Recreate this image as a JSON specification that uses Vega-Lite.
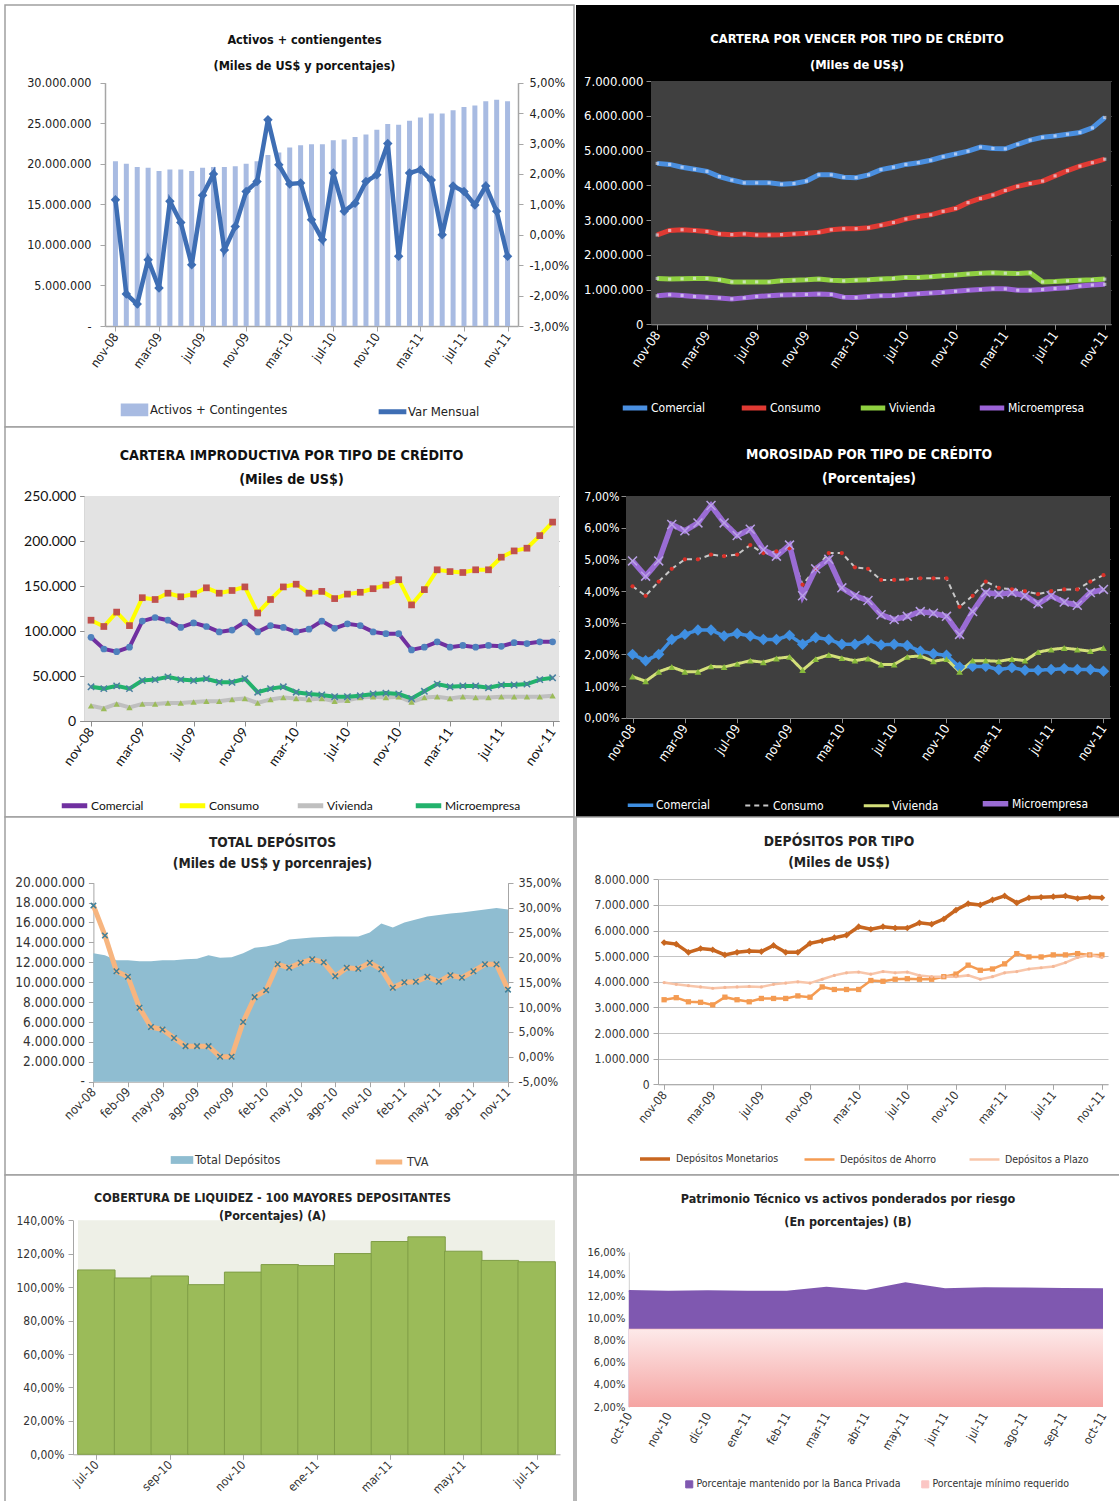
{
"$schema": "https://vega.github.io/schema/vega-lite/v6.json",
"padding": {"left": 4, "top": 4, "right": 0, "bottom": 0},
"background": "white",
"columns": 2,
"spacing": {"row": 0, "column": 2},
"bounds": "flush",
"resolve": {"scale": {"color": "independent", "fill": "independent", "stroke": "independent", "shape": "independent", "size": "independent", "strokeWidth": "independent", "strokeDash": "independent"}},
"config": {
  "locale": {"number": {"decimal": ",", "thousands": ".", "grouping": [3], "currency": ["$", ""], "minus": "-"}},
  "view": {"stroke": null},
  "axis": {"labelFont": "DejaVu Sans Condensed", "grid": false, "labelOverlap": false},
  "legend": {"labelFont": "DejaVu Sans Condensed", "labelLimit": 400},
  "title": {"font": "DejaVu Sans Condensed", "fontWeight": "bold", "anchor": "middle", "frame": "group"}
},
"datasets": {
  "one": [{}],
  "p1": [
    {"i":0,"act":20.3e6,"varm":0.0115},{"i":1,"act":20.0e6,"varm":-0.0195},{"i":2,"act":19.6e6,"varm":-0.0228},{"i":3,"act":19.5e6,"varm":-0.0082},
    {"i":4,"act":19.1e6,"varm":-0.0175},{"i":5,"act":19.3e6,"varm":0.011},{"i":6,"act":19.3e6,"varm":0.004},{"i":7,"act":19.1e6,"varm":-0.0099},
    {"i":8,"act":19.5e6,"varm":0.013},{"i":9,"act":19.6e6,"varm":0.02},{"i":10,"act":19.6e6,"varm":-0.005},{"i":11,"act":19.7e6,"varm":0.0027},
    {"i":12,"act":20.0e6,"varm":0.0142},{"i":13,"act":20.3e6,"varm":0.0175},{"i":14,"act":21.1e6,"varm":0.0378},{"i":15,"act":21.4e6,"varm":0.023},
    {"i":16,"act":22.0e6,"varm":0.0167},{"i":17,"act":22.3e6,"varm":0.017},{"i":18,"act":22.4e6,"varm":0.0049},{"i":19,"act":22.4e6,"varm":-0.0016},
    {"i":20,"act":22.9e6,"varm":0.0203},{"i":21,"act":23.0e6,"varm":0.0077},{"i":22,"act":23.3e6,"varm":0.0104},{"i":23,"act":23.6e6,"varm":0.0175},
    {"i":24,"act":24.2e6,"varm":0.0197},{"i":25,"act":24.9e6,"varm":0.03},{"i":26,"act":24.8e6,"varm":-0.0071},{"i":27,"act":25.3e6,"varm":0.0203},
    {"i":28,"act":25.7e6,"varm":0.0214},{"i":29,"act":26.2e6,"varm":0.018},{"i":30,"act":26.2e6,"varm":0.0},{"i":31,"act":26.6e6,"varm":0.016},
    {"i":32,"act":27.0e6,"varm":0.0142},{"i":33,"act":27.2e6,"varm":0.0098},{"i":34,"act":27.7e6,"varm":0.016},{"i":35,"act":27.9e6,"varm":0.0077},
    {"i":36,"act":27.7e6,"varm":-0.0071}
  ],
  "p2": [
    {"i":0,"s":"Comercial","v":4.63e6},{"i":1,"s":"Comercial","v":4.60e6},{"i":2,"s":"Comercial","v":4.52e6},{"i":3,"s":"Comercial","v":4.46e6},{"i":4,"s":"Comercial","v":4.40e6},{"i":5,"s":"Comercial","v":4.25e6},{"i":6,"s":"Comercial","v":4.15e6},{"i":7,"s":"Comercial","v":4.07e6},{"i":8,"s":"Comercial","v":4.07e6},{"i":9,"s":"Comercial","v":4.07e6},{"i":10,"s":"Comercial","v":4.03e6},{"i":11,"s":"Comercial","v":4.05e6},{"i":12,"s":"Comercial","v":4.12e6},{"i":13,"s":"Comercial","v":4.30e6},{"i":14,"s":"Comercial","v":4.30e6},{"i":15,"s":"Comercial","v":4.23e6},{"i":16,"s":"Comercial","v":4.22e6},{"i":17,"s":"Comercial","v":4.30e6},{"i":18,"s":"Comercial","v":4.45e6},{"i":19,"s":"Comercial","v":4.52e6},{"i":20,"s":"Comercial","v":4.60e6},{"i":21,"s":"Comercial","v":4.65e6},{"i":22,"s":"Comercial","v":4.72e6},{"i":23,"s":"Comercial","v":4.82e6},{"i":24,"s":"Comercial","v":4.90e6},{"i":25,"s":"Comercial","v":4.98e6},{"i":26,"s":"Comercial","v":5.10e6},{"i":27,"s":"Comercial","v":5.06e6},{"i":28,"s":"Comercial","v":5.05e6},{"i":29,"s":"Comercial","v":5.18e6},{"i":30,"s":"Comercial","v":5.30e6},{"i":31,"s":"Comercial","v":5.38e6},{"i":32,"s":"Comercial","v":5.42e6},{"i":33,"s":"Comercial","v":5.47e6},{"i":34,"s":"Comercial","v":5.52e6},{"i":35,"s":"Comercial","v":5.65e6},{"i":36,"s":"Comercial","v":5.95e6},
    {"i":0,"s":"Consumo","v":2.57e6},{"i":1,"s":"Consumo","v":2.70e6},{"i":2,"s":"Consumo","v":2.72e6},{"i":3,"s":"Consumo","v":2.70e6},{"i":4,"s":"Consumo","v":2.67e6},{"i":5,"s":"Consumo","v":2.60e6},{"i":6,"s":"Consumo","v":2.58e6},{"i":7,"s":"Consumo","v":2.60e6},{"i":8,"s":"Consumo","v":2.57e6},{"i":9,"s":"Consumo","v":2.57e6},{"i":10,"s":"Consumo","v":2.58e6},{"i":11,"s":"Consumo","v":2.60e6},{"i":12,"s":"Consumo","v":2.62e6},{"i":13,"s":"Consumo","v":2.65e6},{"i":14,"s":"Consumo","v":2.72e6},{"i":15,"s":"Consumo","v":2.75e6},{"i":16,"s":"Consumo","v":2.75e6},{"i":17,"s":"Consumo","v":2.78e6},{"i":18,"s":"Consumo","v":2.85e6},{"i":19,"s":"Consumo","v":2.93e6},{"i":20,"s":"Consumo","v":3.03e6},{"i":21,"s":"Consumo","v":3.10e6},{"i":22,"s":"Consumo","v":3.15e6},{"i":23,"s":"Consumo","v":3.25e6},{"i":24,"s":"Consumo","v":3.33e6},{"i":25,"s":"Consumo","v":3.50e6},{"i":26,"s":"Consumo","v":3.62e6},{"i":27,"s":"Consumo","v":3.72e6},{"i":28,"s":"Consumo","v":3.85e6},{"i":29,"s":"Consumo","v":3.97e6},{"i":30,"s":"Consumo","v":4.05e6},{"i":31,"s":"Consumo","v":4.12e6},{"i":32,"s":"Consumo","v":4.27e6},{"i":33,"s":"Consumo","v":4.42e6},{"i":34,"s":"Consumo","v":4.55e6},{"i":35,"s":"Consumo","v":4.65e6},{"i":36,"s":"Consumo","v":4.75e6},
    {"i":0,"s":"Vivienda","v":1.32e6},{"i":1,"s":"Vivienda","v":1.30e6},{"i":2,"s":"Vivienda","v":1.31e6},{"i":3,"s":"Vivienda","v":1.32e6},{"i":4,"s":"Vivienda","v":1.32e6},{"i":5,"s":"Vivienda","v":1.28e6},{"i":6,"s":"Vivienda","v":1.22e6},{"i":7,"s":"Vivienda","v":1.22e6},{"i":8,"s":"Vivienda","v":1.22e6},{"i":9,"s":"Vivienda","v":1.22e6},{"i":10,"s":"Vivienda","v":1.25e6},{"i":11,"s":"Vivienda","v":1.27e6},{"i":12,"s":"Vivienda","v":1.28e6},{"i":13,"s":"Vivienda","v":1.30e6},{"i":14,"s":"Vivienda","v":1.27e6},{"i":15,"s":"Vivienda","v":1.25e6},{"i":16,"s":"Vivienda","v":1.27e6},{"i":17,"s":"Vivienda","v":1.28e6},{"i":18,"s":"Vivienda","v":1.30e6},{"i":19,"s":"Vivienda","v":1.32e6},{"i":20,"s":"Vivienda","v":1.35e6},{"i":21,"s":"Vivienda","v":1.35e6},{"i":22,"s":"Vivienda","v":1.37e6},{"i":23,"s":"Vivienda","v":1.40e6},{"i":24,"s":"Vivienda","v":1.42e6},{"i":25,"s":"Vivienda","v":1.45e6},{"i":26,"s":"Vivienda","v":1.47e6},{"i":27,"s":"Vivienda","v":1.48e6},{"i":28,"s":"Vivienda","v":1.47e6},{"i":29,"s":"Vivienda","v":1.46e6},{"i":30,"s":"Vivienda","v":1.48e6},{"i":31,"s":"Vivienda","v":1.22e6},{"i":32,"s":"Vivienda","v":1.23e6},{"i":33,"s":"Vivienda","v":1.25e6},{"i":34,"s":"Vivienda","v":1.27e6},{"i":35,"s":"Vivienda","v":1.28e6},{"i":36,"s":"Vivienda","v":1.30e6},
    {"i":0,"s":"Microempresa","v":0.82e6},{"i":1,"s":"Microempresa","v":0.85e6},{"i":2,"s":"Microempresa","v":0.83e6},{"i":3,"s":"Microempresa","v":0.80e6},{"i":4,"s":"Microempresa","v":0.78e6},{"i":5,"s":"Microempresa","v":0.76e6},{"i":6,"s":"Microempresa","v":0.73e6},{"i":7,"s":"Microempresa","v":0.76e6},{"i":8,"s":"Microempresa","v":0.80e6},{"i":9,"s":"Microempresa","v":0.82e6},{"i":10,"s":"Microempresa","v":0.84e6},{"i":11,"s":"Microempresa","v":0.85e6},{"i":12,"s":"Microempresa","v":0.86e6},{"i":13,"s":"Microempresa","v":0.87e6},{"i":14,"s":"Microempresa","v":0.86e6},{"i":15,"s":"Microempresa","v":0.78e6},{"i":16,"s":"Microempresa","v":0.77e6},{"i":17,"s":"Microempresa","v":0.80e6},{"i":18,"s":"Microempresa","v":0.82e6},{"i":19,"s":"Microempresa","v":0.83e6},{"i":20,"s":"Microempresa","v":0.86e6},{"i":21,"s":"Microempresa","v":0.88e6},{"i":22,"s":"Microempresa","v":0.90e6},{"i":23,"s":"Microempresa","v":0.92e6},{"i":24,"s":"Microempresa","v":0.95e6},{"i":25,"s":"Microempresa","v":0.98e6},{"i":26,"s":"Microempresa","v":1.00e6},{"i":27,"s":"Microempresa","v":1.02e6},{"i":28,"s":"Microempresa","v":1.02e6},{"i":29,"s":"Microempresa","v":0.98e6},{"i":30,"s":"Microempresa","v":0.98e6},{"i":31,"s":"Microempresa","v":1.00e6},{"i":32,"s":"Microempresa","v":1.03e6},{"i":33,"s":"Microempresa","v":1.05e6},{"i":34,"s":"Microempresa","v":1.10e6},{"i":35,"s":"Microempresa","v":1.13e6},{"i":36,"s":"Microempresa","v":1.15e6}
  ],
  "p3": [
    {"i":0,"s":"Comercial","v":93e3},{"i":1,"s":"Comercial","v":80e3},{"i":2,"s":"Comercial","v":77e3},{"i":3,"s":"Comercial","v":82e3},{"i":4,"s":"Comercial","v":111e3},{"i":5,"s":"Comercial","v":115e3},{"i":6,"s":"Comercial","v":112e3},{"i":7,"s":"Comercial","v":104e3},{"i":8,"s":"Comercial","v":109e3},{"i":9,"s":"Comercial","v":105e3},{"i":10,"s":"Comercial","v":99e3},{"i":11,"s":"Comercial","v":101e3},{"i":12,"s":"Comercial","v":110e3},{"i":13,"s":"Comercial","v":99e3},{"i":14,"s":"Comercial","v":106e3},{"i":15,"s":"Comercial","v":104e3},{"i":16,"s":"Comercial","v":99e3},{"i":17,"s":"Comercial","v":102e3},{"i":18,"s":"Comercial","v":111e3},{"i":19,"s":"Comercial","v":103e3},{"i":20,"s":"Comercial","v":108e3},{"i":21,"s":"Comercial","v":106e3},{"i":22,"s":"Comercial","v":99e3},{"i":23,"s":"Comercial","v":97e3},{"i":24,"s":"Comercial","v":97e3},{"i":25,"s":"Comercial","v":79e3},{"i":26,"s":"Comercial","v":82e3},{"i":27,"s":"Comercial","v":88e3},{"i":28,"s":"Comercial","v":82e3},{"i":29,"s":"Comercial","v":84e3},{"i":30,"s":"Comercial","v":82e3},{"i":31,"s":"Comercial","v":84e3},{"i":32,"s":"Comercial","v":83e3},{"i":33,"s":"Comercial","v":87e3},{"i":34,"s":"Comercial","v":86e3},{"i":35,"s":"Comercial","v":88e3},{"i":36,"s":"Comercial","v":88e3},
    {"i":0,"s":"Consumo","v":112e3},{"i":1,"s":"Consumo","v":105e3},{"i":2,"s":"Consumo","v":121e3},{"i":3,"s":"Consumo","v":106e3},{"i":4,"s":"Consumo","v":137e3},{"i":5,"s":"Consumo","v":135e3},{"i":6,"s":"Consumo","v":142e3},{"i":7,"s":"Consumo","v":138e3},{"i":8,"s":"Consumo","v":141e3},{"i":9,"s":"Consumo","v":148e3},{"i":10,"s":"Consumo","v":142e3},{"i":11,"s":"Consumo","v":145e3},{"i":12,"s":"Consumo","v":149e3},{"i":13,"s":"Consumo","v":120e3},{"i":14,"s":"Consumo","v":135e3},{"i":15,"s":"Consumo","v":149e3},{"i":16,"s":"Consumo","v":152e3},{"i":17,"s":"Consumo","v":142e3},{"i":18,"s":"Consumo","v":144e3},{"i":19,"s":"Consumo","v":136e3},{"i":20,"s":"Consumo","v":141e3},{"i":21,"s":"Consumo","v":143e3},{"i":22,"s":"Consumo","v":147e3},{"i":23,"s":"Consumo","v":151e3},{"i":24,"s":"Consumo","v":157e3},{"i":25,"s":"Consumo","v":129e3},{"i":26,"s":"Consumo","v":146e3},{"i":27,"s":"Consumo","v":168e3},{"i":28,"s":"Consumo","v":166e3},{"i":29,"s":"Consumo","v":165e3},{"i":30,"s":"Consumo","v":168e3},{"i":31,"s":"Consumo","v":168e3},{"i":32,"s":"Consumo","v":182e3},{"i":33,"s":"Consumo","v":189e3},{"i":34,"s":"Consumo","v":192e3},{"i":35,"s":"Consumo","v":206e3},{"i":36,"s":"Consumo","v":221e3},
    {"i":0,"s":"Vivienda","v":17e3},{"i":1,"s":"Vivienda","v":14e3},{"i":2,"s":"Vivienda","v":19e3},{"i":3,"s":"Vivienda","v":15e3},{"i":4,"s":"Vivienda","v":19e3},{"i":5,"s":"Vivienda","v":19e3},{"i":6,"s":"Vivienda","v":20e3},{"i":7,"s":"Vivienda","v":20e3},{"i":8,"s":"Vivienda","v":21e3},{"i":9,"s":"Vivienda","v":22e3},{"i":10,"s":"Vivienda","v":22e3},{"i":11,"s":"Vivienda","v":24e3},{"i":12,"s":"Vivienda","v":25e3},{"i":13,"s":"Vivienda","v":20e3},{"i":14,"s":"Vivienda","v":24e3},{"i":15,"s":"Vivienda","v":26e3},{"i":16,"s":"Vivienda","v":25e3},{"i":17,"s":"Vivienda","v":24e3},{"i":18,"s":"Vivienda","v":25e3},{"i":19,"s":"Vivienda","v":22e3},{"i":20,"s":"Vivienda","v":23e3},{"i":21,"s":"Vivienda","v":26e3},{"i":22,"s":"Vivienda","v":27e3},{"i":23,"s":"Vivienda","v":26e3},{"i":24,"s":"Vivienda","v":27e3},{"i":25,"s":"Vivienda","v":21e3},{"i":26,"s":"Vivienda","v":26e3},{"i":27,"s":"Vivienda","v":27e3},{"i":28,"s":"Vivienda","v":25e3},{"i":29,"s":"Vivienda","v":27e3},{"i":30,"s":"Vivienda","v":26e3},{"i":31,"s":"Vivienda","v":26e3},{"i":32,"s":"Vivienda","v":27e3},{"i":33,"s":"Vivienda","v":27e3},{"i":34,"s":"Vivienda","v":27e3},{"i":35,"s":"Vivienda","v":27e3},{"i":36,"s":"Vivienda","v":28e3},
    {"i":0,"s":"Microempresa","v":38e3},{"i":1,"s":"Microempresa","v":36e3},{"i":2,"s":"Microempresa","v":39e3},{"i":3,"s":"Microempresa","v":36e3},{"i":4,"s":"Microempresa","v":45e3},{"i":5,"s":"Microempresa","v":46e3},{"i":6,"s":"Microempresa","v":49e3},{"i":7,"s":"Microempresa","v":46e3},{"i":8,"s":"Microempresa","v":45e3},{"i":9,"s":"Microempresa","v":47e3},{"i":10,"s":"Microempresa","v":43e3},{"i":11,"s":"Microempresa","v":43e3},{"i":12,"s":"Microempresa","v":47e3},{"i":13,"s":"Microempresa","v":32e3},{"i":14,"s":"Microempresa","v":36e3},{"i":15,"s":"Microempresa","v":38e3},{"i":16,"s":"Microempresa","v":32e3},{"i":17,"s":"Microempresa","v":30e3},{"i":18,"s":"Microempresa","v":29e3},{"i":19,"s":"Microempresa","v":27e3},{"i":20,"s":"Microempresa","v":27e3},{"i":21,"s":"Microempresa","v":28e3},{"i":22,"s":"Microempresa","v":30e3},{"i":23,"s":"Microempresa","v":31e3},{"i":24,"s":"Microempresa","v":30e3},{"i":25,"s":"Microempresa","v":25e3},{"i":26,"s":"Microempresa","v":33e3},{"i":27,"s":"Microempresa","v":41e3},{"i":28,"s":"Microempresa","v":38e3},{"i":29,"s":"Microempresa","v":39e3},{"i":30,"s":"Microempresa","v":39e3},{"i":31,"s":"Microempresa","v":37e3},{"i":32,"s":"Microempresa","v":40e3},{"i":33,"s":"Microempresa","v":40e3},{"i":34,"s":"Microempresa","v":41e3},{"i":35,"s":"Microempresa","v":46e3},{"i":36,"s":"Microempresa","v":48e3}
  ],
  "p4": [
    {"i":0,"s":"Comercial","v":0.02},{"i":1,"s":"Comercial","v":0.018},{"i":2,"s":"Comercial","v":0.02},{"i":3,"s":"Comercial","v":0.0247},{"i":4,"s":"Comercial","v":0.0263},{"i":5,"s":"Comercial","v":0.0277},{"i":6,"s":"Comercial","v":0.0277},{"i":7,"s":"Comercial","v":0.0258},{"i":8,"s":"Comercial","v":0.0266},{"i":9,"s":"Comercial","v":0.0258},{"i":10,"s":"Comercial","v":0.0247},{"i":11,"s":"Comercial","v":0.0247},{"i":12,"s":"Comercial","v":0.026},{"i":13,"s":"Comercial","v":0.0232},{"i":14,"s":"Comercial","v":0.0253},{"i":15,"s":"Comercial","v":0.0247},{"i":16,"s":"Comercial","v":0.0232},{"i":17,"s":"Comercial","v":0.0232},{"i":18,"s":"Comercial","v":0.0245},{"i":19,"s":"Comercial","v":0.023},{"i":20,"s":"Comercial","v":0.0232},{"i":21,"s":"Comercial","v":0.0228},{"i":22,"s":"Comercial","v":0.021},{"i":23,"s":"Comercial","v":0.0202},{"i":24,"s":"Comercial","v":0.0197},{"i":25,"s":"Comercial","v":0.016},{"i":26,"s":"Comercial","v":0.0162},{"i":27,"s":"Comercial","v":0.0162},{"i":28,"s":"Comercial","v":0.0152},{"i":29,"s":"Comercial","v":0.0158},{"i":30,"s":"Comercial","v":0.015},{"i":31,"s":"Comercial","v":0.015},{"i":32,"s":"Comercial","v":0.0152},{"i":33,"s":"Comercial","v":0.0155},{"i":34,"s":"Comercial","v":0.0152},{"i":35,"s":"Comercial","v":0.0152},{"i":36,"s":"Comercial","v":0.0147},
    {"i":0,"s":"Consumo","v":0.0415},{"i":1,"s":"Consumo","v":0.0385},{"i":2,"s":"Consumo","v":0.043},{"i":3,"s":"Consumo","v":0.047},{"i":4,"s":"Consumo","v":0.05},{"i":5,"s":"Consumo","v":0.05},{"i":6,"s":"Consumo","v":0.0515},{"i":7,"s":"Consumo","v":0.051},{"i":8,"s":"Consumo","v":0.0515},{"i":9,"s":"Consumo","v":0.0545},{"i":10,"s":"Consumo","v":0.052},{"i":11,"s":"Consumo","v":0.0525},{"i":12,"s":"Consumo","v":0.0535},{"i":13,"s":"Consumo","v":0.042},{"i":14,"s":"Consumo","v":0.047},{"i":15,"s":"Consumo","v":0.052},{"i":16,"s":"Consumo","v":0.052},{"i":17,"s":"Consumo","v":0.0475},{"i":18,"s":"Consumo","v":0.047},{"i":19,"s":"Consumo","v":0.0435},{"i":20,"s":"Consumo","v":0.0435},{"i":21,"s":"Consumo","v":0.0437},{"i":22,"s":"Consumo","v":0.044},{"i":23,"s":"Consumo","v":0.044},{"i":24,"s":"Consumo","v":0.044},{"i":25,"s":"Consumo","v":0.035},{"i":26,"s":"Consumo","v":0.0385},{"i":27,"s":"Consumo","v":0.043},{"i":28,"s":"Consumo","v":0.041},{"i":29,"s":"Consumo","v":0.0405},{"i":30,"s":"Consumo","v":0.04},{"i":31,"s":"Consumo","v":0.039},{"i":32,"s":"Consumo","v":0.04},{"i":33,"s":"Consumo","v":0.0405},{"i":34,"s":"Consumo","v":0.0405},{"i":35,"s":"Consumo","v":0.043},{"i":36,"s":"Consumo","v":0.045},
    {"i":0,"s":"Vivienda","v":0.013},{"i":1,"s":"Vivienda","v":0.0115},{"i":2,"s":"Vivienda","v":0.0145},{"i":3,"s":"Vivienda","v":0.016},{"i":4,"s":"Vivienda","v":0.0145},{"i":5,"s":"Vivienda","v":0.0145},{"i":6,"s":"Vivienda","v":0.0162},{"i":7,"s":"Vivienda","v":0.016},{"i":8,"s":"Vivienda","v":0.017},{"i":9,"s":"Vivienda","v":0.018},{"i":10,"s":"Vivienda","v":0.0175},{"i":11,"s":"Vivienda","v":0.0187},{"i":12,"s":"Vivienda","v":0.0192},{"i":13,"s":"Vivienda","v":0.015},{"i":14,"s":"Vivienda","v":0.0185},{"i":15,"s":"Vivienda","v":0.0198},{"i":16,"s":"Vivienda","v":0.0188},{"i":17,"s":"Vivienda","v":0.018},{"i":18,"s":"Vivienda","v":0.0187},{"i":19,"s":"Vivienda","v":0.0168},{"i":20,"s":"Vivienda","v":0.0168},{"i":21,"s":"Vivienda","v":0.0192},{"i":22,"s":"Vivienda","v":0.0195},{"i":23,"s":"Vivienda","v":0.0178},{"i":24,"s":"Vivienda","v":0.0185},{"i":25,"s":"Vivienda","v":0.0145},{"i":26,"s":"Vivienda","v":0.018},{"i":27,"s":"Vivienda","v":0.018},{"i":28,"s":"Vivienda","v":0.0178},{"i":29,"s":"Vivienda","v":0.0185},{"i":30,"s":"Vivienda","v":0.018},{"i":31,"s":"Vivienda","v":0.0207},{"i":32,"s":"Vivienda","v":0.0215},{"i":33,"s":"Vivienda","v":0.022},{"i":34,"s":"Vivienda","v":0.0215},{"i":35,"s":"Vivienda","v":0.021},{"i":36,"s":"Vivienda","v":0.022},
    {"i":0,"s":"Microempresa","v":0.0495},{"i":1,"s":"Microempresa","v":0.0447},{"i":2,"s":"Microempresa","v":0.0495},{"i":3,"s":"Microempresa","v":0.061},{"i":4,"s":"Microempresa","v":0.059},{"i":5,"s":"Microempresa","v":0.0615},{"i":6,"s":"Microempresa","v":0.067},{"i":7,"s":"Microempresa","v":0.0615},{"i":8,"s":"Microempresa","v":0.0575},{"i":9,"s":"Microempresa","v":0.0595},{"i":10,"s":"Microempresa","v":0.053},{"i":11,"s":"Microempresa","v":0.051},{"i":12,"s":"Microempresa","v":0.0545},{"i":13,"s":"Microempresa","v":0.0385},{"i":14,"s":"Microempresa","v":0.047},{"i":15,"s":"Microempresa","v":0.05},{"i":16,"s":"Microempresa","v":0.041},{"i":17,"s":"Microempresa","v":0.0385},{"i":18,"s":"Microempresa","v":0.037},{"i":19,"s":"Microempresa","v":0.0325},{"i":20,"s":"Microempresa","v":0.031},{"i":21,"s":"Microempresa","v":0.032},{"i":22,"s":"Microempresa","v":0.0335},{"i":23,"s":"Microempresa","v":0.033},{"i":24,"s":"Microempresa","v":0.032},{"i":25,"s":"Microempresa","v":0.0263},{"i":26,"s":"Microempresa","v":0.0335},{"i":27,"s":"Microempresa","v":0.0395},{"i":28,"s":"Microempresa","v":0.039},{"i":29,"s":"Microempresa","v":0.0395},{"i":30,"s":"Microempresa","v":0.0385},{"i":31,"s":"Microempresa","v":0.036},{"i":32,"s":"Microempresa","v":0.0385},{"i":33,"s":"Microempresa","v":0.0365},{"i":34,"s":"Microempresa","v":0.0355},{"i":35,"s":"Microempresa","v":0.0395},{"i":36,"s":"Microempresa","v":0.0405}
  ],
  "p5": [
    {"i":0,"tot":12.9e6,"tva":0.304},{"i":1,"tot":12.7e6,"tva":0.244},{"i":2,"tot":12.2e6,"tva":0.172},{"i":3,"tot":12.2e6,"tva":0.161},{"i":4,"tot":12.1e6,"tva":0.0985},{"i":5,"tot":12.1e6,"tva":0.06},{"i":6,"tot":12.2e6,"tva":0.055},{"i":7,"tot":12.2e6,"tva":0.038},{"i":8,"tot":12.3e6,"tva":0.0215},{"i":9,"tot":12.35e6,"tva":0.0215},{"i":10,"tot":12.7e6,"tva":0.0215},{"i":11,"tot":12.45e6,"tva":0.0},{"i":12,"tot":12.5e6,"tva":0.0},
    {"i":13,"tot":12.9e6,"tva":0.07},{"i":14,"tot":13.45e6,"tva":0.12},{"i":15,"tot":13.6e6,"tva":0.134},{"i":16,"tot":13.85e6,"tva":0.186},{"i":17,"tot":14.3e6,"tva":0.179},{"i":18,"tot":14.4e6,"tva":0.189},{"i":19,"tot":14.5e6,"tva":0.196},{"i":20,"tot":14.55e6,"tva":0.19},{"i":21,"tot":14.6e6,"tva":0.162},{"i":22,"tot":14.6e6,"tva":0.179},{"i":23,"tot":14.6e6,"tva":0.177},{"i":24,"tot":15.0e6,"tva":0.189},
    {"i":25,"tot":15.9e6,"tva":0.176},{"i":26,"tot":15.5e6,"tva":0.139},{"i":27,"tot":16.0e6,"tva":0.15},{"i":28,"tot":16.3e6,"tva":0.151},{"i":29,"tot":16.6e6,"tva":0.161},{"i":30,"tot":16.75e6,"tva":0.151},{"i":31,"tot":16.9e6,"tva":0.164},{"i":32,"tot":17.0e6,"tva":0.159},{"i":33,"tot":17.15e6,"tva":0.172},{"i":34,"tot":17.3e6,"tva":0.186},{"i":35,"tot":17.45e6,"tva":0.186},{"i":36,"tot":17.3e6,"tva":0.135}
  ],
  "p6": [
    {"i":0,"s":"Depósitos Monetarios","v":5.53e6},{"i":1,"s":"Depósitos Monetarios","v":5.47e6},{"i":2,"s":"Depósitos Monetarios","v":5.15e6},{"i":3,"s":"Depósitos Monetarios","v":5.3e6},{"i":4,"s":"Depósitos Monetarios","v":5.25e6},{"i":5,"s":"Depósitos Monetarios","v":5.05e6},{"i":6,"s":"Depósitos Monetarios","v":5.15e6},{"i":7,"s":"Depósitos Monetarios","v":5.2e6},{"i":8,"s":"Depósitos Monetarios","v":5.18e6},{"i":9,"s":"Depósitos Monetarios","v":5.42e6},{"i":10,"s":"Depósitos Monetarios","v":5.15e6},{"i":11,"s":"Depósitos Monetarios","v":5.15e6},{"i":12,"s":"Depósitos Monetarios","v":5.5e6},{"i":13,"s":"Depósitos Monetarios","v":5.6e6},{"i":14,"s":"Depósitos Monetarios","v":5.72e6},{"i":15,"s":"Depósitos Monetarios","v":5.82e6},{"i":16,"s":"Depósitos Monetarios","v":6.15e6},{"i":17,"s":"Depósitos Monetarios","v":6.05e6},{"i":18,"s":"Depósitos Monetarios","v":6.15e6},{"i":19,"s":"Depósitos Monetarios","v":6.1e6},{"i":20,"s":"Depósitos Monetarios","v":6.1e6},{"i":21,"s":"Depósitos Monetarios","v":6.3e6},{"i":22,"s":"Depósitos Monetarios","v":6.25e6},{"i":23,"s":"Depósitos Monetarios","v":6.45e6},{"i":24,"s":"Depósitos Monetarios","v":6.8e6},{"i":25,"s":"Depósitos Monetarios","v":7.05e6},{"i":26,"s":"Depósitos Monetarios","v":7.0e6},{"i":27,"s":"Depósitos Monetarios","v":7.2e6},{"i":28,"s":"Depósitos Monetarios","v":7.35e6},{"i":29,"s":"Depósitos Monetarios","v":7.08e6},{"i":30,"s":"Depósitos Monetarios","v":7.28e6},{"i":31,"s":"Depósitos Monetarios","v":7.3e6},{"i":32,"s":"Depósitos Monetarios","v":7.32e6},{"i":33,"s":"Depósitos Monetarios","v":7.35e6},{"i":34,"s":"Depósitos Monetarios","v":7.25e6},{"i":35,"s":"Depósitos Monetarios","v":7.3e6},{"i":36,"s":"Depósitos Monetarios","v":7.28e6},
    {"i":0,"s":"Depósitos de Ahorro","v":3.3e6},{"i":1,"s":"Depósitos de Ahorro","v":3.38e6},{"i":2,"s":"Depósitos de Ahorro","v":3.22e6},{"i":3,"s":"Depósitos de Ahorro","v":3.2e6},{"i":4,"s":"Depósitos de Ahorro","v":3.1e6},{"i":5,"s":"Depósitos de Ahorro","v":3.4e6},{"i":6,"s":"Depósitos de Ahorro","v":3.3e6},{"i":7,"s":"Depósitos de Ahorro","v":3.22e6},{"i":8,"s":"Depósitos de Ahorro","v":3.35e6},{"i":9,"s":"Depósitos de Ahorro","v":3.35e6},{"i":10,"s":"Depósitos de Ahorro","v":3.35e6},{"i":11,"s":"Depósitos de Ahorro","v":3.45e6},{"i":12,"s":"Depósitos de Ahorro","v":3.4e6},{"i":13,"s":"Depósitos de Ahorro","v":3.8e6},{"i":14,"s":"Depósitos de Ahorro","v":3.7e6},{"i":15,"s":"Depósitos de Ahorro","v":3.7e6},{"i":16,"s":"Depósitos de Ahorro","v":3.7e6},{"i":17,"s":"Depósitos de Ahorro","v":4.05e6},{"i":18,"s":"Depósitos de Ahorro","v":4.02e6},{"i":19,"s":"Depósitos de Ahorro","v":4.1e6},{"i":20,"s":"Depósitos de Ahorro","v":4.12e6},{"i":21,"s":"Depósitos de Ahorro","v":4.1e6},{"i":22,"s":"Depósitos de Ahorro","v":4.1e6},{"i":23,"s":"Depósitos de Ahorro","v":4.2e6},{"i":24,"s":"Depósitos de Ahorro","v":4.3e6},{"i":25,"s":"Depósitos de Ahorro","v":4.65e6},{"i":26,"s":"Depósitos de Ahorro","v":4.45e6},{"i":27,"s":"Depósitos de Ahorro","v":4.5e6},{"i":28,"s":"Depósitos de Ahorro","v":4.7e6},{"i":29,"s":"Depósitos de Ahorro","v":5.1e6},{"i":30,"s":"Depósitos de Ahorro","v":4.97e6},{"i":31,"s":"Depósitos de Ahorro","v":4.97e6},{"i":32,"s":"Depósitos de Ahorro","v":5.05e6},{"i":33,"s":"Depósitos de Ahorro","v":5.05e6},{"i":34,"s":"Depósitos de Ahorro","v":5.1e6},{"i":35,"s":"Depósitos de Ahorro","v":5.05e6},{"i":36,"s":"Depósitos de Ahorro","v":5.05e6},
    {"i":0,"s":"Depósitos a Plazo","v":3.97e6},{"i":1,"s":"Depósitos a Plazo","v":3.9e6},{"i":2,"s":"Depósitos a Plazo","v":3.85e6},{"i":3,"s":"Depósitos a Plazo","v":3.8e6},{"i":4,"s":"Depósitos a Plazo","v":3.75e6},{"i":5,"s":"Depósitos a Plazo","v":3.78e6},{"i":6,"s":"Depósitos a Plazo","v":3.8e6},{"i":7,"s":"Depósitos a Plazo","v":3.82e6},{"i":8,"s":"Depósitos a Plazo","v":3.8e6},{"i":9,"s":"Depósitos a Plazo","v":3.9e6},{"i":10,"s":"Depósitos a Plazo","v":3.95e6},{"i":11,"s":"Depósitos a Plazo","v":4.0e6},{"i":12,"s":"Depósitos a Plazo","v":3.95e6},{"i":13,"s":"Depósitos a Plazo","v":4.1e6},{"i":14,"s":"Depósitos a Plazo","v":4.25e6},{"i":15,"s":"Depósitos a Plazo","v":4.35e6},{"i":16,"s":"Depósitos a Plazo","v":4.38e6},{"i":17,"s":"Depósitos a Plazo","v":4.3e6},{"i":18,"s":"Depósitos a Plazo","v":4.4e6},{"i":19,"s":"Depósitos a Plazo","v":4.35e6},{"i":20,"s":"Depósitos a Plazo","v":4.38e6},{"i":21,"s":"Depósitos a Plazo","v":4.25e6},{"i":22,"s":"Depósitos a Plazo","v":4.2e6},{"i":23,"s":"Depósitos a Plazo","v":4.2e6},{"i":24,"s":"Depósitos a Plazo","v":4.2e6},{"i":25,"s":"Depósitos a Plazo","v":4.25e6},{"i":26,"s":"Depósitos a Plazo","v":4.1e6},{"i":27,"s":"Depósitos a Plazo","v":4.2e6},{"i":28,"s":"Depósitos a Plazo","v":4.35e6},{"i":29,"s":"Depósitos a Plazo","v":4.4e6},{"i":30,"s":"Depósitos a Plazo","v":4.5e6},{"i":31,"s":"Depósitos a Plazo","v":4.55e6},{"i":32,"s":"Depósitos a Plazo","v":4.6e6},{"i":33,"s":"Depósitos a Plazo","v":4.75e6},{"i":34,"s":"Depósitos a Plazo","v":4.95e6},{"i":35,"s":"Depósitos a Plazo","v":5.05e6},{"i":36,"s":"Depósitos a Plazo","v":4.95e6}
  ],
  "p7": [
    {"i":0,"mes":"jul-10","v":1.103},{"i":1,"mes":"ago-10","v":1.055},{"i":2,"mes":"sep-10","v":1.067},{"i":3,"mes":"oct-10","v":1.015},{"i":4,"mes":"nov-10","v":1.09},{"i":5,"mes":"dic-10","v":1.135},{"i":6,"mes":"ene-11","v":1.129},{"i":7,"mes":"feb-11","v":1.201},{"i":8,"mes":"mar-11","v":1.273},{"i":9,"mes":"abr-11","v":1.301},{"i":10,"mes":"may-11","v":1.215},{"i":11,"mes":"jun-11","v":1.16},{"i":12,"mes":"jul-11","v":1.152}
  ],
  "p8": [
    {"i":0,"mes":"oct-10","banca":0.1248,"minimo":0.09},{"i":1,"mes":"nov-10","banca":0.124,"minimo":0.09},{"i":2,"mes":"dic-10","banca":0.1245,"minimo":0.09},{"i":3,"mes":"ene-11","banca":0.124,"minimo":0.09},{"i":4,"mes":"feb-11","banca":0.124,"minimo":0.09},{"i":5,"mes":"mar-11","banca":0.1278,"minimo":0.09},{"i":6,"mes":"abr-11","banca":0.1248,"minimo":0.09},{"i":7,"mes":"may-11","banca":0.1317,"minimo":0.09},{"i":8,"mes":"jun-11","banca":0.1263,"minimo":0.09},{"i":9,"mes":"jul-11","banca":0.1272,"minimo":0.09},{"i":10,"mes":"ago-11","banca":0.127,"minimo":0.09},{"i":11,"mes":"sep-11","banca":0.1265,"minimo":0.09},{"i":12,"mes":"oct-11","banca":0.1263,"minimo":0.09}
  ]
},
"concat": [
 {
  "width": 569, "height": 422,
  "view": {"fill": "white", "stroke": "#a0a0a0", "strokeWidth": 1.5},
  "title": {"text": ["Activos + contiengentes", "(Miles de US$ y porcentajes)"], "fontSize": 12.5, "lineHeight": 26, "offset": -67, "dx": 15, "color": "#111111"},
  "data": {"name": "p1"},
  "layer": [
   {"mark": {"type": "bar", "size": 5},
    "encoding": {
     "x": {"field": "i", "type": "quantitative", "title": null,
       "scale": {"domain": [-0.5, 36.5], "range": [100, 513], "nice": false, "zero": false},
       "axis": {"orient": "bottom", "offset": -101, "values": [0,4,8,12,16,20,24,28,32,36], "labelExpr": "['nov-08','mar-09','jul-09','nov-09','mar-10','jul-10','nov-10','mar-11','jul-11','nov-11'][datum.value/4]", "labelAngle": -55, "labelAlign": "right", "labelBaseline": "middle", "labelFontSize": 12.5, "labelColor": "#222222", "domainColor": "#a6a6a6", "domainWidth": 1.5, "tickColor": "#a6a6a6", "tickSize": 5, "labelPadding": 3}},
     "y": {"field": "act", "type": "quantitative", "title": null,
       "scale": {"domain": [0, 30000000], "range": [321, 77.7], "nice": false, "zero": false},
       "axis": {"orient": "left", "offset": -100, "values": [0,5000000,10000000,15000000,20000000,25000000,30000000], "format": ",.0f", "labelExpr": "datum.value == 0 ? '-' : datum.label", "labelFontSize": 12.5, "labelColor": "#222222", "domainColor": "#a6a6a6", "domainWidth": 1.5, "tickColor": "#a6a6a6", "tickSize": 5, "labelPadding": 9}},
     "color": {"datum": "Activos + Contingentes", "type": "nominal",
       "scale": {"domain": ["Activos + Contingentes", "Var Mensual"], "range": ["#a8bbe2", "#3e6eb4"]},
       "legend": {"orient": "none", "legendX": 118, "legendY": 393, "direction": "horizontal", "title": null, "labelFontSize": 13, "labelColor": "#222222", "columnPadding": 80, "symbolSize": 300, "labelOffset": 4,
         "encode": {"symbols": {"update": {
           "shape": {"signal": "datum.value === 'Var Mensual' ? 'M-1.6,0H1.6' : 'M-1.3,-0.45H1.3V0.45H-1.3Z'"},
           "fill": {"signal": "datum.value === 'Var Mensual' ? 'transparent' : '#a8bbe2'"},
           "stroke": {"signal": "datum.value === 'Var Mensual' ? '#3e6eb4' : 'transparent'"},
           "strokeWidth": {"value": 5}, "opacity": {"value": 1}}}}}}
    }},
   {"mark": {"type": "line", "strokeWidth": 4.5, "point": {"shape": "diamond", "size": 90, "filled": true}},
    "encoding": {
     "x": {"field": "i", "type": "quantitative", "title": null, "scale": {"domain": [-0.5, 36.5], "range": [100, 513], "nice": false, "zero": false}},
     "y": {"field": "varm", "type": "quantitative", "title": null,
       "scale": {"domain": [-0.03, 0.05], "range": [321, 77.7], "nice": false, "zero": false},
       "axis": {"orient": "right", "offset": -56, "values": [-0.03,-0.02,-0.01,0,0.01,0.02,0.03,0.04,0.05], "format": ".2%", "labelFontSize": 12.5, "labelColor": "#222222", "domainColor": "#a6a6a6", "domainWidth": 1.5, "tickColor": "#a6a6a6", "tickSize": 5, "labelPadding": 6}},
     "color": {"datum": "Var Mensual", "type": "nominal"}
    }}
  ],
  "resolve": {"scale": {"y": "independent"}}
 },
 {
  "width": 544, "height": 422,
  "view": {"fill": "#000000", "stroke": null},
  "title": {"text": ["CARTERA POR VENCER POR TIPO DE CRÉDITO", "(Miles de US$)"], "fontSize": 12.8, "lineHeight": 26, "offset": -67, "dx": 9, "color": "#ffffff"},
  "layer": [
   {"data": {"name": "one"},
    "mark": {"type": "rect", "fill": "#404040"},
    "encoding": {
     "x": {"datum": -0.5, "type": "quantitative", "scale": {"domain": [-0.5, 36.5], "range": [75, 535], "nice": false, "zero": false},
       "axis": {"orient": "bottom", "offset": -102.7, "values": [0,4,8,12,16,20,24,28,32,36], "labelExpr": "['nov-08','mar-09','jul-09','nov-09','mar-10','jul-10','nov-10','mar-11','jul-11','nov-11'][datum.value/4]", "labelAngle": -55, "labelAlign": "right", "labelBaseline": "middle", "labelFontSize": 13, "labelColor": "#ffffff", "domainColor": "#8c8c8c", "tickColor": "#8c8c8c", "tickSize": 5, "labelPadding": 3, "title": null}},
     "x2": {"datum": 36.5},
     "y": {"datum": 0, "type": "quantitative", "scale": {"domain": [0, 7000000], "range": [319.3, 76], "nice": false, "zero": false},
       "axis": {"orient": "left", "offset": -75, "values": [0,1000000,2000000,3000000,4000000,5000000,6000000,7000000], "format": ",.0f", "grid": true, "gridColor": "#8c8c8c", "labelFontSize": 13, "labelColor": "#ffffff", "domainColor": "#8c8c8c", "tickColor": "#8c8c8c", "tickSize": 5, "labelPadding": 3, "title": null}},
     "y2": {"datum": 7000000}
    }},
   {"data": {"name": "p2"},
    "mark": {"type": "line", "strokeWidth": 5},
    "encoding": {
     "x": {"field": "i", "type": "quantitative", "title": null},
     "y": {"field": "v", "type": "quantitative", "title": null},
     "color": {"field": "s", "type": "nominal", "sort": null,
       "scale": {"domain": ["Comercial", "Consumo", "Vivienda", "Microempresa"], "range": ["#4a8fe0", "#e03a33", "#8fd040", "#9b62d6"]},
       "legend": {"orient": "none", "legendX": 44, "legendY": 388, "direction": "horizontal", "title": null, "labelFontSize": 12, "labelColor": "#ffffff", "symbolType": "stroke", "symbolStrokeWidth": 5, "symbolSize": 600, "columnPadding": 3, "gridAlign": "all", "labelOffset": 1}}
    }},
   {"data": {"name": "p2"},
    "mark": {"type": "point", "shape": "square", "filled": true, "size": 10, "color": "#f0f0ff", "opacity": 0.6},
    "encoding": {
     "x": {"field": "i", "type": "quantitative", "title": null},
     "y": {"field": "v", "type": "quantitative", "title": null}
    }}
  ]
 },
 {
  "width": 569, "height": 390,
  "view": {"fill": "white", "stroke": "#a0a0a0", "strokeWidth": 1.5},
  "title": {"text": ["CARTERA IMPRODUCTIVA POR TIPO DE CRÉDITO", "(Miles de US$)"], "fontSize": 14.2, "lineHeight": 24, "offset": -60, "dx": 2, "color": "#111111"},
  "layer": [
   {"data": {"name": "one"},
    "mark": {"type": "rect", "fill": "#e3e3e3"},
    "encoding": {
     "x": {"datum": -0.5, "type": "quantitative", "scale": {"domain": [-0.5, 36.5], "range": [79.6, 554], "nice": false, "zero": false},
       "axis": {"orient": "bottom", "offset": -96, "values": [0,4,8,12,16,20,24,28,32,36], "labelExpr": "['nov-08','mar-09','jul-09','nov-09','mar-10','jul-10','nov-10','mar-11','jul-11','nov-11'][datum.value/4]", "labelAngle": -55, "labelAlign": "right", "labelBaseline": "middle", "labelFont": "Lato, sans-serif", "labelFontSize": 13.5, "labelColor": "#111111", "domainColor": "#8c8c8c", "tickColor": "#8c8c8c", "tickSize": 5, "labelPadding": 3, "title": null}},
     "x2": {"datum": 36.5},
     "y": {"datum": 0, "type": "quantitative", "scale": {"domain": [0, 250000], "range": [294, 69], "nice": false, "zero": false},
       "axis": {"orient": "left", "offset": -79.6, "values": [0,50000,100000,150000,200000,250000], "format": ",.0f", "grid": true, "gridColor": "#8c8c8c", "labelFont": "Lato, sans-serif", "labelFontSize": 14, "labelColor": "#111111", "domainColor": "#8c8c8c", "tickColor": "#8c8c8c", "tickSize": 5, "labelPadding": 4, "title": null}},
     "y2": {"datum": 250000}
    }},
   {"data": {"name": "p3"},
    "mark": {"type": "line", "strokeWidth": 4},
    "encoding": {
     "x": {"field": "i", "type": "quantitative", "title": null},
     "y": {"field": "v", "type": "quantitative", "title": null},
     "color": {"field": "s", "type": "nominal", "sort": null,
       "scale": {"domain": ["Comercial", "Consumo", "Vivienda", "Microempresa"], "range": ["#7030a0", "#ffff00", "#bfbfbf", "#22b26c"]},
       "legend": {"orient": "none", "legendX": 54, "legendY": 363, "direction": "horizontal", "title": null, "labelFont": "Lato, sans-serif", "labelFontSize": 12, "labelColor": "#111111", "symbolType": "stroke", "symbolStrokeWidth": 5, "symbolSize": 650, "columnPadding": 2, "gridAlign": "all", "labelOffset": 1}}
    }},
   {"data": {"name": "p3"}, "transform": [{"filter": {"field": "s", "equal": "Comercial"}}],
    "mark": {"type": "point", "shape": "circle", "filled": true, "size": 45, "color": "#4f81bd", "opacity": 1},
    "encoding": {"x": {"field": "i", "type": "quantitative", "title": null}, "y": {"field": "v", "type": "quantitative", "title": null}}},
   {"data": {"name": "p3"}, "transform": [{"filter": {"field": "s", "equal": "Consumo"}}],
    "mark": {"type": "point", "shape": "square", "filled": true, "size": 45, "color": "#c0504d", "opacity": 1},
    "encoding": {"x": {"field": "i", "type": "quantitative", "title": null}, "y": {"field": "v", "type": "quantitative", "title": null}}},
   {"data": {"name": "p3"}, "transform": [{"filter": {"field": "s", "equal": "Vivienda"}}],
    "mark": {"type": "point", "shape": "triangle-up", "filled": true, "size": 40, "color": "#9bbb59", "opacity": 1},
    "encoding": {"x": {"field": "i", "type": "quantitative", "title": null}, "y": {"field": "v", "type": "quantitative", "title": null}}},
   {"data": {"name": "p3"}, "transform": [{"filter": {"field": "s", "equal": "Microempresa"}}],
    "mark": {"type": "point", "shape": "M-1,-1L1,1M-1,1L1,-1", "filled": false, "size": 40, "color": "#4a7fa0", "strokeWidth": 1.5, "opacity": 1},
    "encoding": {"x": {"field": "i", "type": "quantitative", "title": null}, "y": {"field": "v", "type": "quantitative", "title": null}}}
  ]
 },
 {
  "width": 544, "height": 390,
  "view": {"fill": "#000000", "stroke": null},
  "title": {"text": ["MOROSIDAD POR TIPO DE CRÉDITO", "(Porcentajes)"], "fontSize": 13.8, "lineHeight": 24, "offset": -59, "dx": 21, "color": "#ffffff"},
  "layer": [
   {"data": {"name": "one"},
    "mark": {"type": "rect", "fill": "#3f3f3f"},
    "encoding": {
     "x": {"datum": -0.5, "type": "quantitative", "scale": {"domain": [-0.5, 36.5], "range": [50, 534], "nice": false, "zero": false},
       "axis": {"orient": "bottom", "offset": -99.3, "values": [0,4,8,12,16,20,24,28,32,36], "labelExpr": "['nov-08','mar-09','jul-09','nov-09','mar-10','jul-10','nov-10','mar-11','jul-11','nov-11'][datum.value/4]", "labelAngle": -55, "labelAlign": "right", "labelBaseline": "middle", "labelFontSize": 13, "labelColor": "#ffffff", "domainColor": "#8c8c8c", "tickColor": "#8c8c8c", "tickSize": 5, "labelPadding": 3, "title": null}},
     "x2": {"datum": 36.5},
     "y": {"datum": 0, "type": "quantitative", "scale": {"domain": [0, 0.07], "range": [290.7, 69], "nice": false, "zero": false},
       "axis": {"orient": "left", "offset": -50, "values": [0,0.01,0.02,0.03,0.04,0.05,0.06,0.07], "format": ".2%", "grid": true, "gridColor": "#8c8c8c", "labelFontSize": 12.3, "labelColor": "#ffffff", "domainColor": "#8c8c8c", "tickColor": "#8c8c8c", "tickSize": 5, "labelPadding": 2, "title": null}},
     "y2": {"datum": 0.07}
    }},
   {"data": {"name": "p4"},
    "mark": {"type": "line"},
    "encoding": {
     "x": {"field": "i", "type": "quantitative", "title": null},
     "y": {"field": "v", "type": "quantitative", "title": null},
     "color": {"field": "s", "type": "nominal", "sort": null,
       "scale": {"domain": ["Comercial", "Consumo", "Vivienda", "Microempresa"], "range": ["#3f8fe2", "#c8c8c8", "#d4e07a", "#9a6cd4"]},
       "legend": {"orient": "none", "legendX": 50, "legendY": 361, "direction": "horizontal", "title": null, "labelFontSize": 12, "labelColor": "#ffffff", "symbolType": "stroke", "symbolStrokeWidth": 5, "symbolSize": 650, "columnPadding": 0, "gridAlign": "all", "labelOffset": 1}},
     "strokeWidth": {"field": "s", "type": "nominal", "scale": {"type": "ordinal", "domain": ["Comercial", "Consumo", "Vivienda", "Microempresa"], "range": [3.5, 2, 3, 5.5]}, "legend": null},
     "strokeDash": {"field": "s", "type": "nominal", "scale": {"domain": ["Comercial", "Consumo", "Vivienda", "Microempresa"], "range": [[1,0],[5,4],[1,0],[1,0]]}, "legend": null}
    }},
   {"data": {"name": "p4"}, "transform": [{"filter": {"field": "s", "equal": "Comercial"}}],
    "mark": {"type": "point", "shape": "diamond", "filled": true, "size": 130, "color": "#3f8fe2", "opacity": 1},
    "encoding": {"x": {"field": "i", "type": "quantitative", "title": null}, "y": {"field": "v", "type": "quantitative", "title": null}}},
   {"data": {"name": "p4"}, "transform": [{"filter": {"field": "s", "equal": "Consumo"}}],
    "mark": {"type": "point", "shape": "circle", "filled": true, "size": 18, "color": "#d83028", "opacity": 1},
    "encoding": {"x": {"field": "i", "type": "quantitative", "title": null}, "y": {"field": "v", "type": "quantitative", "title": null}}},
   {"data": {"name": "p4"}, "transform": [{"filter": {"field": "s", "equal": "Vivienda"}}],
    "mark": {"type": "point", "shape": "triangle-up", "filled": true, "size": 45, "color": "#86b83a", "opacity": 1},
    "encoding": {"x": {"field": "i", "type": "quantitative", "title": null}, "y": {"field": "v", "type": "quantitative", "title": null}}},
   {"data": {"name": "p4"}, "transform": [{"filter": {"field": "s", "equal": "Microempresa"}}],
    "mark": {"type": "point", "shape": "M-1,-1L1,1M-1,1L1,-1", "filled": false, "size": 80, "color": "#b9a0e6", "strokeWidth": 1.5, "opacity": 1},
    "encoding": {"x": {"field": "i", "type": "quantitative", "title": null}, "y": {"field": "v", "type": "quantitative", "title": null}}}
  ]
 },
 {
  "width": 569, "height": 358,
  "view": {"fill": "white", "stroke": "#a0a0a0", "strokeWidth": 1.5},
  "title": {"text": ["TOTAL DEPÓSITOS", "(Miles de US$ y porcenrajes)"], "fontSize": 13.7, "lineHeight": 21, "offset": -54, "dx": -17, "color": "#222222"},
  "data": {"name": "p5"},
  "layer": [
   {"mark": {"type": "area", "opacity": 1},
    "encoding": {
     "x": {"field": "i", "type": "quantitative", "title": null,
       "scale": {"domain": [0, 36], "range": [88.4, 503], "nice": false, "zero": false},
       "axis": {"orient": "bottom", "offset": -93.3, "values": [0,3,6,9,12,15,18,21,24,27,30,33,36], "labelExpr": "['nov-08','feb-09','may-09','ago-09','nov-09','feb-10','may-10','ago-10','nov-10','feb-11','may-11','ago-11','nov-11'][datum.value/3]", "labelAngle": -45, "labelAlign": "right", "labelBaseline": "middle", "labelFontSize": 12.5, "labelColor": "#333333", "domainColor": "#a6a6a6", "tickColor": "#a6a6a6", "tickSize": 5, "labelPadding": 3}},
     "y": {"field": "tot", "type": "quantitative", "title": null,
       "scale": {"domain": [0, 20000000], "range": [264.7, 65.7], "nice": false, "zero": false},
       "axis": {"orient": "left", "offset": -88.4, "values": [0,2000000,4000000,6000000,8000000,10000000,12000000,14000000,16000000,18000000,20000000], "format": ",.0f", "labelExpr": "datum.value == 0 ? '-' : datum.label", "labelFontSize": 13.5, "labelColor": "#333333", "domainColor": "#a6a6a6", "tickColor": "#a6a6a6", "tickSize": 5, "labelPadding": 4}},
     "y2": {"datum": 0},
     "fill": {"datum": "Total Depósitos", "type": "nominal",
       "scale": {"domain": ["Total Depósitos"], "range": ["#8fbdd1"]},
       "legend": {"orient": "none", "legendX": 168, "legendY": 334, "direction": "horizontal", "title": null, "labelFontSize": 12.5, "labelColor": "#333333", "symbolType": "M-1.3,-0.45H1.3V0.45H-1.3Z", "symbolSize": 300, "symbolOpacity": 1, "symbolStrokeWidth": 0, "labelOffset": 4}}
    }},
   {"layer": [
     {"mark": {"type": "line", "strokeWidth": 5},
      "encoding": {
       "x": {"field": "i", "type": "quantitative", "title": null, "scale": {"domain": [0, 36], "range": [88.4, 503], "nice": false, "zero": false}},
       "y": {"field": "tva", "type": "quantitative", "title": null,
         "scale": {"domain": [-0.05, 0.35], "range": [264.7, 65.7], "nice": false, "zero": false},
         "axis": {"orient": "right", "offset": -66, "values": [-0.05,0,0.05,0.1,0.15,0.2,0.25,0.3,0.35], "format": ".2%", "labelFontSize": 12.5, "labelColor": "#333333", "domainColor": "#a6a6a6", "tickColor": "#a6a6a6", "tickSize": 5, "labelPadding": 5}},
       "stroke": {"datum": "TVA", "type": "nominal",
         "scale": {"domain": ["TVA"], "range": ["#f7b57f"]},
         "legend": {"orient": "none", "legendX": 368, "legendY": 329, "direction": "horizontal", "title": null, "labelFontSize": 12.5, "labelColor": "#333333", "symbolType": "stroke", "symbolStrokeWidth": 5, "symbolSize": 700, "labelOffset": 2}}
      }},
     {"mark": {"type": "point", "shape": "M-1,-1L1,1M-1,1L1,-1", "size": 30, "stroke": "#3f7f98", "strokeWidth": 1.5, "filled": false, "opacity": 1},
      "encoding": {
       "x": {"field": "i", "type": "quantitative", "title": null},
       "y": {"field": "tva", "type": "quantitative", "title": null}
      }}
   ]}
  ],
  "resolve": {"scale": {"y": "independent"}}
 },
 {
  "width": 544, "height": 358,
  "view": {"fill": "white", "stroke": "#a0a0a0", "strokeWidth": 1.5},
  "title": {"text": ["DEPÓSITOS POR TIPO", "(Miles de US$)"], "fontSize": 13.8, "lineHeight": 21, "offset": -53, "dx": -9, "color": "#222222"},
  "data": {"name": "p6"},
  "layer": [
   {"mark": {"type": "line"},
    "encoding": {
     "x": {"field": "i", "type": "quantitative", "title": null,
       "scale": {"domain": [-0.5, 36.5], "range": [82, 532], "nice": false, "zero": false},
       "axis": {"orient": "bottom", "offset": -90.7, "values": [0,4,8,12,16,20,24,28,32,36], "labelExpr": "['nov-08','mar-09','jul-09','nov-09','mar-10','jul-10','nov-10','mar-11','jul-11','nov-11'][datum.value/4]", "labelAngle": -50, "labelAlign": "right", "labelBaseline": "middle", "labelFontSize": 12, "labelColor": "#333333", "domainColor": "#a6a6a6", "tickColor": "#a6a6a6", "tickSize": 5, "labelPadding": 3}},
     "y": {"field": "v", "type": "quantitative", "title": null,
       "scale": {"domain": [0, 8000000], "range": [267.3, 62.3], "nice": false, "zero": false},
       "axis": {"orient": "left", "offset": -82, "values": [0,1000000,2000000,3000000,4000000,5000000,6000000,7000000,8000000], "format": ",.0f", "grid": true, "gridColor": "#c4c4c4", "labelFontSize": 12, "labelColor": "#333333", "domainColor": "#a6a6a6", "tickColor": "#a6a6a6", "tickSize": 5, "labelPadding": 4}},
     "color": {"field": "s", "type": "nominal", "sort": null,
       "scale": {"domain": ["Depósitos Monetarios", "Depósitos de Ahorro", "Depósitos a Plazo"], "range": ["#c8661f", "#f49b52", "#f8c6aa"]},
       "legend": {"orient": "none", "legendX": 62, "legendY": 325, "direction": "horizontal", "title": null, "labelFontSize": 10.5, "labelColor": "#333333", "symbolType": "stroke", "symbolStrokeWidth": 4, "symbolSize": 900, "columnPadding": 20, "gridAlign": "all", "labelOffset": 4}},
     "strokeWidth": {"field": "s", "type": "nominal", "scale": {"type": "ordinal", "domain": ["Depósitos Monetarios", "Depósitos de Ahorro", "Depósitos a Plazo"], "range": [3.5, 2.5, 2.5]}, "legend": null}
    }},
   {"transform": [{"filter": {"field": "s", "equal": "Depósitos Monetarios"}}],
    "mark": {"type": "point", "shape": "diamond", "filled": true, "size": 45, "color": "#c8661f", "opacity": 1},
    "encoding": {"x": {"field": "i", "type": "quantitative", "title": null}, "y": {"field": "v", "type": "quantitative", "title": null}}},
   {"transform": [{"filter": {"field": "s", "equal": "Depósitos de Ahorro"}}],
    "mark": {"type": "point", "shape": "square", "filled": true, "size": 28, "color": "#f49b52", "opacity": 1},
    "encoding": {"x": {"field": "i", "type": "quantitative", "title": null}, "y": {"field": "v", "type": "quantitative", "title": null}}},
   {"transform": [{"filter": {"field": "s", "equal": "Depósitos a Plazo"}}],
    "mark": {"type": "point", "shape": "circle", "filled": true, "size": 10, "color": "#f5b898", "opacity": 1},
    "encoding": {"x": {"field": "i", "type": "quantitative", "title": null}, "y": {"field": "v", "type": "quantitative", "title": null}}}
  ]
 },
 {
  "width": 569, "height": 327,
  "view": {"fill": "white", "stroke": "#a0a0a0", "strokeWidth": 1.5},
  "title": {"text": ["COBERTURA DE LIQUIDEZ  - 100 MAYORES DEPOSITANTES", "(Porcentajes) (A)"], "fontSize": 12.4, "lineHeight": 18, "offset": -47, "dx": -17, "color": "#222222"},
  "layer": [
   {"data": {"name": "one"},
    "mark": {"type": "rect", "fill": "#eef0e7"},
    "encoding": {
     "x": {"datum": -0.5, "type": "quantitative", "scale": {"domain": [-0.5, 12.5], "range": [68, 555], "nice": false, "zero": false},
       "axis": {"orient": "bottom", "offset": -47.7, "values": [0,2,4,6,8,10,12], "labelExpr": "['jul-10','sep-10','nov-10','ene-11','mar-11','may-11','jul-11'][datum.value/2]", "labelAngle": -45, "labelAlign": "right", "labelBaseline": "middle", "labelFontSize": 12, "labelColor": "#333333", "domainColor": "#a6a6a6", "tickColor": "#a6a6a6", "tickSize": 5, "labelPadding": 3, "title": null}},
     "x2": {"datum": 12.5},
     "y": {"datum": 0, "type": "quantitative", "scale": {"domain": [0, 1.4], "range": [279.3, 45.3], "nice": false, "zero": false},
       "axis": {"orient": "left", "offset": -68, "values": [0,0.2,0.4,0.6,0.8,1.0,1.2,1.4], "format": ".2%", "labelFontSize": 12, "labelColor": "#333333", "domainColor": "#a6a6a6", "tickColor": "#a6a6a6", "tickSize": 5, "labelPadding": 4, "title": null}},
     "y2": {"datum": 1.4}
    }},
   {"data": {"name": "p7"},
    "mark": {"type": "bar", "size": 37.4, "fill": "#9bbb59", "stroke": "#7f9d46", "strokeWidth": 1},
    "encoding": {
     "x": {"field": "i", "type": "quantitative", "title": null},
     "y": {"field": "v", "type": "quantitative", "title": null}
    }}
  ]
 },
 {
  "width": 544, "height": 327,
  "view": {"fill": "white", "stroke": "#a0a0a0", "strokeWidth": 1.5},
  "title": {"text": ["Patrimonio Técnico vs activos ponderados por riesgo", "(En porcentajes) (B)"], "fontSize": 12.5, "lineHeight": 23, "offset": -53, "dx": 0, "color": "#222222"},
  "data": {"name": "p8"},
  "layer": [
   {"mark": {"type": "area", "opacity": 1, "line": {"color": "#c4b0ec", "strokeWidth": 2}},
    "encoding": {
     "x": {"field": "i", "type": "quantitative", "title": null,
       "scale": {"domain": [0, 12], "range": [52.8, 527], "nice": false, "zero": false},
       "axis": {"orient": "bottom", "offset": -95, "values": [0,1,2,3,4,5,6,7,8,9,10,11,12], "labelExpr": "['oct-10','nov-10','dic-10','ene-11','feb-11','mar-11','abr-11','may-11','jun-11','jul-11','ago-11','sep-11','oct-11'][datum.value]", "labelAngle": -60, "labelAlign": "right", "labelBaseline": "middle", "labelFontSize": 12, "labelColor": "#333333", "domain": false, "ticks": false, "labelPadding": 6}},
     "y": {"field": "banca", "type": "quantitative", "title": null,
       "scale": {"domain": [0.02, 0.16], "range": [232, 77], "nice": false, "zero": false},
       "axis": {"orient": "left", "offset": -52.8, "values": [0.02,0.04,0.06,0.08,0.1,0.12,0.14,0.16], "format": ".2%", "labelFontSize": 11, "labelColor": "#333333", "domainColor": "#d0d0d0", "ticks": false, "labelPadding": 4}},
     "y2": {"datum": 0.02},
     "color": {"datum": "Porcentaje mantenido por la Banca Privada", "type": "nominal",
       "scale": {"domain": ["Porcentaje mantenido por la Banca Privada", "Porcentaje mínimo requerido"], "range": ["#7f58b0", "#fbc6c4"]},
       "legend": {"orient": "none", "legendX": 108, "legendY": 304, "direction": "horizontal", "title": null, "labelFontSize": 10.5, "labelColor": "#333333", "symbolType": "square", "symbolSize": 50, "symbolStrokeColor": "#888888", "symbolStrokeWidth": 1, "columnPadding": 18, "labelOffset": 2}}
    }},
   {"mark": {"type": "area", "opacity": 1, "line": {"color": "#d86b6b", "strokeWidth": 1.5}},
    "encoding": {
     "x": {"field": "i", "type": "quantitative", "title": null},
     "y": {"field": "minimo", "type": "quantitative", "title": null},
     "y2": {"datum": 0.02},
     "color": {"datum": "Porcentaje mínimo requerido", "type": "nominal"}
    }},
   {"mark": {"type": "area", "opacity": 1, "color": {"gradient": "linear", "x1": 0, "y1": 0, "x2": 0, "y2": 1, "stops": [{"offset": 0, "color": "#fde9e9"}, {"offset": 1, "color": "#f5a4a2"}]}},
    "encoding": {
     "x": {"field": "i", "type": "quantitative", "title": null},
     "y": {"field": "minimo", "type": "quantitative", "title": null},
     "y2": {"datum": 0.02}
    }}
  ]
 }
]
}
